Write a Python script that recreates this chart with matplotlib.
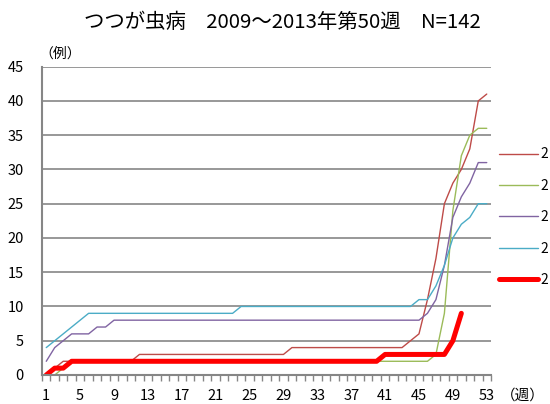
import matplotlib
matplotlib.use("Agg")
import matplotlib.pyplot as plt

plt.rcParams['font.family'] = ['Noto Sans CJK JP', 'DejaVu Sans']

weeks = list(range(1, 54))
# legend entries as they appear in the reference (cut to the first digit there)
labels = ["2", "2", "2", "2", "2"]

# cumulative reported cases per week, 2009..2013
y2009 = [0, 1, 2, 2, 2, 2, 2, 2, 2, 2, 2, 3, 3, 3, 3, 3, 3, 3, 3, 3,
         3, 3, 3, 3, 3, 3, 3, 3, 3, 4, 4, 4, 4, 4, 4, 4, 4, 4, 4, 4,
         4, 4, 4, 5, 6, 11, 17, 25, 28, 30, 33, 40, 41]
y2010 = [0, 0, 1, 2, 2, 2, 2, 2, 2, 2, 2, 2, 2, 2, 2, 2, 2, 2, 2, 2,
         2, 2, 2, 2, 2, 2, 2, 2, 2, 2, 2, 2, 2, 2, 2, 2, 2, 2, 2, 2,
         2, 2, 2, 2, 2, 2, 3, 9, 24, 32, 35, 36, 36]
y2011 = [2, 4, 5, 6, 6, 6, 7, 7, 8, 8, 8, 8, 8, 8, 8, 8, 8, 8, 8, 8,
         8, 8, 8, 8, 8, 8, 8, 8, 8, 8, 8, 8, 8, 8, 8, 8, 8, 8, 8, 8,
         8, 8, 8, 8, 8, 9, 11, 16, 23, 26, 28, 31, 31]
y2012 = [4, 5, 6, 7, 8, 9, 9, 9, 9, 9, 9, 9, 9, 9, 9, 9, 9, 9, 9, 9,
         9, 9, 9, 10, 10, 10, 10, 10, 10, 10, 10, 10, 10, 10, 10, 10, 10, 10, 10, 10,
         10, 10, 10, 10, 11, 11, 13, 16, 20, 22, 23, 25, 25]
y2013 = [0, 1, 1, 2, 2, 2, 2, 2, 2, 2, 2, 2, 2, 2, 2, 2, 2, 2, 2, 2,
         2, 2, 2, 2, 2, 2, 2, 2, 2, 2, 2, 2, 2, 2, 2, 2, 2, 2, 2, 2,
         3, 3, 3, 3, 3, 3, 3, 3, 5, 9]

series = [y2009, y2010, y2011, y2012, y2013]
colors = ["#BE4B48", "#9BBB59", "#8064A2", "#4BACC6", "#FF0000"]
widths = [1.0, 1.0, 1.0, 1.0, 3.6]

fig = plt.figure(figsize=(5.5, 4.04), dpi=100)
ax = fig.add_axes([0.0764, 0.0718, 0.8163, 0.7632])

for ys, c, lw, lab in zip(series, colors, widths, labels):
    ax.plot(weeks[:len(ys)], ys, color=c, lw=lw, label=lab, solid_capstyle='round')

ax.set_xlim(0.5, 53.5)
ax.set_ylim(0, 45)
ax.set_yticks(range(0, 46, 5))
ax.set_xticks(range(1, 54, 4))
ax.set_xticks([w + 0.5 for w in range(0, 54)], minor=True)
ax.tick_params(axis='x', which='major', length=0, pad=10, labelsize=10.5)
ax.tick_params(axis='x', which='minor', length=4, width=1, color='#868686', direction='out')
ax.tick_params(axis='y', length=0, pad=13, labelsize=10.5)
ax.grid(axis='y', color='#868686', lw=1.2)
ax.set_axisbelow(True)
for s in ['top', 'right']:
    ax.spines[s].set_visible(False)
for s in ['left', 'bottom']:
    ax.spines[s].set_color('#868686')
    ax.spines[s].set_linewidth(1.5)

fig.text(0.513, 0.945, "つつが虫病　2009～2013年第50週　N=142", ha='center', va='center', fontsize=14.7)
fig.text(0.072, 0.868, "（例）", ha='left', va='center', fontsize=10)
fig.text(0.99, 0.02, "（週）", ha='right', va='center', fontsize=10.5)

fig.legend(loc='upper left', bbox_to_anchor=(0.908, 0.635), frameon=False,
           fontsize=10, labelspacing=1.25, handlelength=2.75, handletextpad=0.2,
           borderaxespad=0, borderpad=0)

fig.savefig("out.png", dpi=100)
